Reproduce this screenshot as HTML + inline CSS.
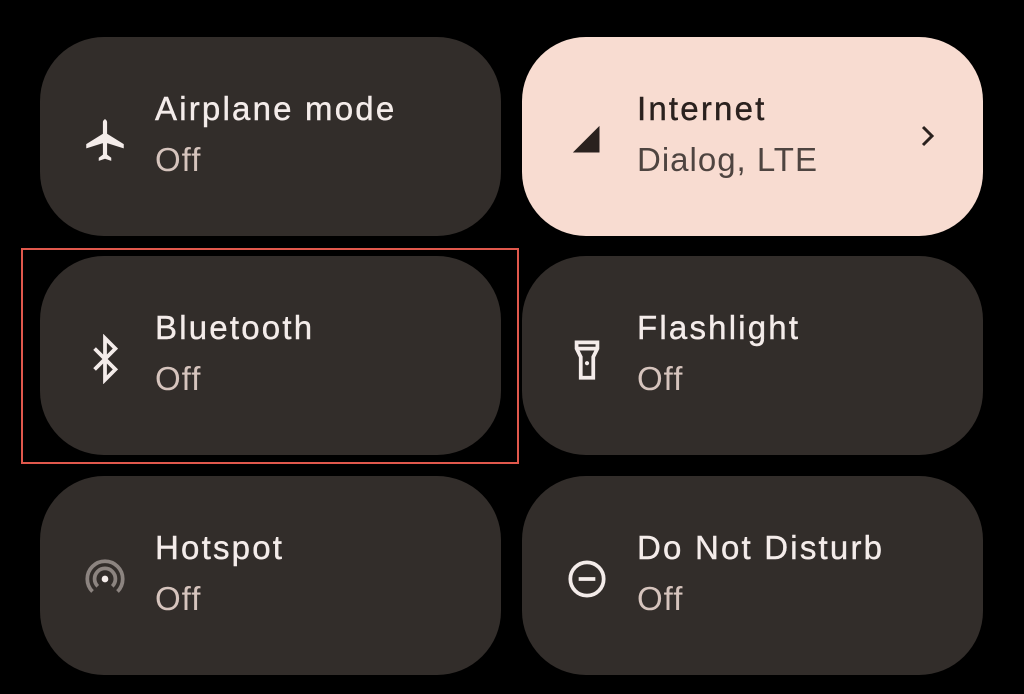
<!DOCTYPE html>
<html><head><style>
body{margin:0;width:1024px;height:694px;background:#000;position:relative;overflow:hidden;font-family:"Liberation Sans",sans-serif}
.t{position:absolute;width:461px;height:199px;border-radius:64px;background:#322d2a}
.t .a{position:absolute;left:115px;top:53px;font-size:33px;color:#f4ecea;letter-spacing:2.2px;-webkit-text-stroke:0.4px #f4ecea}
.t .b{position:absolute;left:115px;top:104px;font-size:33px;color:#d6c4bd;letter-spacing:1px}
.t svg{position:absolute;left:40px;top:78px}
.p{background:#f8dcd1}
.p .a{color:#2a211e;-webkit-text-stroke:0.4px #2a211e}.p .b{color:#4e4440}
</style></head><body>
<div class="t" style="left:40px;top:37px"><svg width="50" height="50" viewBox="0 0 24 24"><path fill="#f4ecea" d="M21 16v-2l-8-5V3.5C13 2.7 12.3 2 11.5 2h1C11.7 2 11 2.7 11 3.5V9l-8 5v2l8-2.5V19l-2 1.5V22l3-1 3 1v-1.5L13 19v-5.5z"/></svg><div class="a">Airplane mode</div><div class="b">Off</div></div>
<div class="t p" style="left:522px;top:37px"><svg width="50" height="50" viewBox="0 0 24 24"><path fill="#2a211e" d="M20 4L4 20h16z" transform="translate(2,2) scale(0.8)"/></svg><div class="a">Internet</div><div class="b">Dialog, LTE</div>
<svg style="left:395px;top:86px" width="22" height="26" viewBox="0 0 22 26"><path d="M6 4l9 9-9 9" stroke="#2a211e" stroke-width="3" fill="none"/></svg></div>
<div class="t" style="left:40px;top:256px"><svg width="50" height="50" viewBox="0 0 24 24"><path d="M7 7l10 10-5 5V2l5 5L7 17" stroke="#f4ecea" stroke-width="1.8" fill="none"/></svg><div class="a">Bluetooth</div><div class="b">Off</div></div>
<div class="t" style="left:522px;top:256px"><svg width="50" height="50" viewBox="0 0 24 24"><path d="M7 4h10v3l-2 4v10H9V11L7 7z M7 7h10" stroke="#f4ecea" stroke-width="1.8" fill="none"/><circle cx="12" cy="14" r="1" fill="#f4ecea"/></svg><div class="a">Flashlight</div><div class="b">Off</div></div>
<div class="t" style="left:40px;top:476px"><svg width="50" height="50" viewBox="0 0 24 24"><circle cx="12" cy="12" r="1.6" fill="#f4ecea"/><path d="M8.5 15.5a5 5 0 1 1 7 0M6 18a8.5 8.5 0 1 1 12 0" stroke="#8c8480" stroke-width="1.8" fill="none"/></svg><div class="a">Hotspot</div><div class="b">Off</div></div>
<div class="t" style="left:522px;top:476px"><svg width="50" height="50" viewBox="0 0 24 24"><circle cx="12" cy="12" r="8" stroke="#f4ecea" stroke-width="1.8" fill="none"/><path d="M8 12h8" stroke="#f4ecea" stroke-width="1.8"/></svg><div class="a">Do Not Disturb</div><div class="b">Off</div></div>
<div style="position:absolute;left:21px;top:248px;width:494px;height:212px;border:2px solid #e0584c"></div>
</body></html>
